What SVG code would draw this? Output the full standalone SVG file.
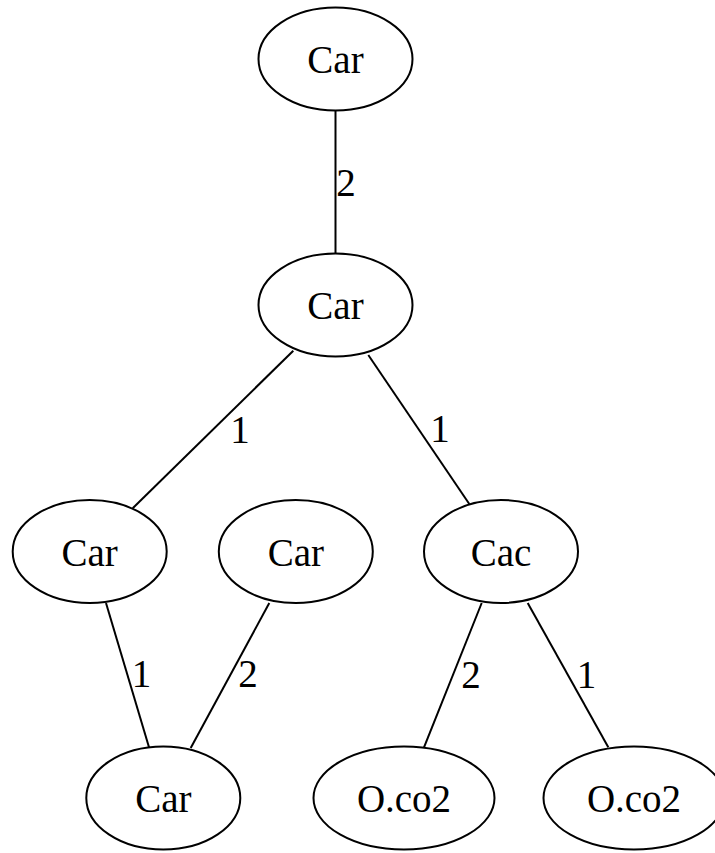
<svg xmlns="http://www.w3.org/2000/svg" width="715" height="853" viewBox="0 0 715 853">
<style>
  .node ellipse { fill: none; stroke: #000; stroke-width: 2; }
  .node text { font-family: "Liberation Serif", "Times New Roman", serif; font-size: 39px; text-anchor: middle; fill: #000; }
  .edges line { stroke: #000; stroke-width: 2; }
  .edges text { font-family: "Liberation Serif", "Times New Roman", serif; font-size: 39px; text-anchor: middle; fill: #000; }
</style>
<rect width="715" height="853" fill="#fff"/>
<g class="edges" id="edges">
  <line x1="335.5" y1="110.5" x2="335.5" y2="253.5"/>
  <text x="346" y="196">2</text>
  <line x1="293.3" y1="350.7" x2="132.7" y2="508.3"/>
  <text x="240" y="443">1</text>
  <line x1="368.3" y1="355" x2="469.3" y2="504"/>
  <text x="440" y="442">1</text>
  <line x1="106" y1="603" x2="149" y2="747.3"/>
  <text x="141.5" y="687">1</text>
  <line x1="269.3" y1="603" x2="190.7" y2="748"/>
  <text x="248" y="687">2</text>
  <line x1="481.7" y1="603" x2="424" y2="747.3"/>
  <text x="471" y="688">2</text>
  <line x1="527.7" y1="603" x2="608.3" y2="747.3"/>
  <text x="586.5" y="688">1</text>
</g>
<g class="node" id="node1"><ellipse cx="335.5" cy="59" rx="77" ry="51.5"/><text x="335.5" y="73">Car</text></g>
<g class="node" id="node2"><ellipse cx="335.5" cy="305" rx="77" ry="51.5"/><text x="335.5" y="319">Car</text></g>
<g class="node" id="node3"><ellipse cx="89.7" cy="551.5" rx="77" ry="51.5"/><text x="89.7" y="565.5">Car</text></g>
<g class="node" id="node4"><ellipse cx="295.8" cy="551.5" rx="77" ry="51.5"/><text x="295.8" y="565.5">Car</text></g>
<g class="node" id="node5"><ellipse cx="501" cy="551.5" rx="77" ry="51.5"/><text x="501" y="565.5">Cac</text></g>
<g class="node" id="node6"><ellipse cx="163.3" cy="798" rx="77" ry="51.5"/><text x="163.3" y="812">Car</text></g>
<g class="node" id="node7"><ellipse cx="404" cy="798" rx="90.5" ry="51.5"/><text x="404" y="812">O.co2</text></g>
<g class="node" id="node8"><ellipse cx="634" cy="798" rx="90.5" ry="51.5"/><text x="634" y="812">O.co2</text></g>
</svg>
